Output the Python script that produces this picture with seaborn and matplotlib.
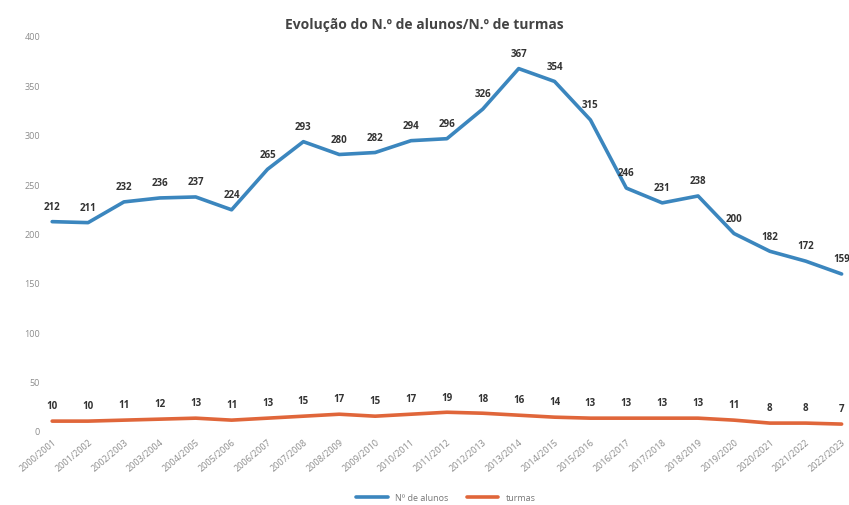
import matplotlib
matplotlib.use("Agg")
import matplotlib.pyplot as plt
import seaborn as sns
import pandas as pd

anos = ["2000/2001", "2001/2002", "2002/2003", "2003/2004", "2004/2005", "2005/2006",
        "2006/2007", "2007/2008", "2008/2009", "2009/2010", "2010/2011", "2011/2012",
        "2012/2013", "2013/2014", "2014/2015", "2015/2016", "2016/2017", "2017/2018",
        "2018/2019", "2019/2020", "2020/2021", "2021/2022", "2022/2023"]
alunos = [212, 211, 232, 236, 237, 224, 265, 293, 280, 282, 294, 296, 326, 367,
          354, 315, 246, 231, 238, 200, 182, 172, 159]
turmas = [10, 10, 11, 12, 13, 11, 13, 15, 17, 15, 17, 19, 18, 16, 14, 13, 13, 13,
          13, 11, 8, 8, 7]
series_names = ["Nº de alunos", "turmas"]
colors = {"Nº de alunos": "#3B86BE", "turmas": "#E0663A"}

sns.set_theme(style="white")
plt.rcParams['font.family'] = ['Open Sans', 'DejaVu Sans']

df = pd.DataFrame({
    "idx": list(range(len(anos))) * 2,
    "valor": alunos + turmas,
    "serie": [series_names[0]] * len(anos) + [series_names[1]] * len(anos),
})

fig = plt.figure(figsize=(8.49, 5.06), dpi=100)
ax = fig.add_axes([45 / 849, 1 - 432 / 506, 802 / 849, (432 - 37) / 506])
sns.lineplot(data=df, x="idx", y="valor", hue="serie", palette=colors,
             linewidth=2.6, ax=ax, legend=True)

for vals in (alunos, turmas):
    for i, v in enumerate(vals):
        ax.annotate(str(v), (i, v), xytext=(0, 7), textcoords="offset points",
                    ha="center", va="bottom", fontsize=7, color="#333333",
                    fontweight="bold")

ax.set_ylim(0, 400)
ax.set_yticks(range(0, 401, 50))
ax.set_xlim(-0.2, 22.15)
ax.set_xticks(range(len(anos)))
ax.set_xticklabels(anos, rotation=40, ha="right", rotation_mode="anchor",
                   fontsize=6.5, color="#8C8C8C")
ax.tick_params(axis="y", labelsize=6.5, colors="#8C8C8C", length=0)
ax.tick_params(axis="x", length=0, pad=4)
ax.set_xlabel("")
ax.set_ylabel("")
for s in ax.spines.values():
    s.set_visible(False)

fig.suptitle("Evolução do N.º de alunos/N.º de turmas", y=0.965, fontsize=10,
             color="#444444", fontweight="bold")

handles, labels = ax.get_legend_handles_labels()
ax.legend(handles, labels, loc="lower center", bbox_to_anchor=(0.5, -0.2),
          ncol=2, frameon=False, fontsize=6.5, labelcolor="#777777",
          handlelength=3.5, columnspacing=2)

fig.savefig("out.png", dpi=100)
